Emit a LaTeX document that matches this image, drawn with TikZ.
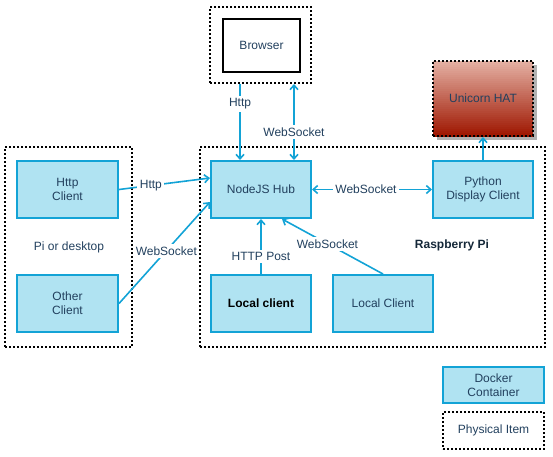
\documentclass[tikz,border=0pt]{standalone}
\usepackage{fontspec}
\setmainfont{Liberation Sans}
\usetikzlibrary{arrows.meta,calc}
\definecolor{cfill}{HTML}{B0E3F2}
\definecolor{cline}{HTML}{13A3D6}
\definecolor{ctext}{HTML}{22405E}
\definecolor{hattop}{HTML}{E4B0A3}
\definecolor{hatbot}{HTML}{9E1600}
\begin{document}
\begin{tikzpicture}[x=1pt,y=-1pt,
  every node/.style={font=\fontsize{12}{14}\selectfont, text=ctext, align=center, inner sep=0pt},
  docker/.style={draw=cline, fill=cfill, line width=2pt, minimum width=100pt, minimum height=57pt},
  phys/.style={draw=black, line width=2pt, dash pattern=on 2pt off 2pt},
  conn/.style={draw=cline, line width=1.6pt, -{Straight Barb[length=4.5pt,width=8pt]}},
  conn2/.style={draw=cline, line width=1.6pt, {Straight Barb[length=4.5pt,width=8pt]}-{Straight Barb[length=4.5pt,width=8pt]}},
  lbl/.style={fill=white, inner sep=2.5pt}
]
\useasboundingbox (0,0) rectangle (553,456);
% physical containers
\node[phys, minimum width=127pt, minimum height=200pt] (pidesk) at (68.5,247) {};
\node[phys, minimum width=345pt, minimum height=200pt] (rpi) at (372.5,247) {};
\node[phys, minimum width=101pt, minimum height=76pt] (browserouter) at (260.5,45) {};
\node[draw=black, line width=2pt, minimum width=77pt, minimum height=53pt] (browser) at (261.5,45.5) {Browser};
% unicorn hat
\fill[black!30] (437,65) rectangle (537,140);
\foreach \i in {0,...,37} {
  \pgfmathsetmacro{\p}{100-\i*100/37}
  \fill[hattop!\p!hatbot] (433,61+2*\i) rectangle (533,63.2+2*\i);
}
\node[phys, minimum width=100pt, minimum height=75pt] (hat) at (483,98.5) {Unicorn HAT};
% docker nodes
\node[docker] (hub) at (261,189.5) {NodeJS Hub};
\node[docker] (py) at (483,189.5) {Python\\Display Client};
\node[docker, minimum width=101pt] (httpc) at (67.5,189.5) {Http\\Client};
\node[docker, minimum width=101pt] (other) at (67.5,303.5) {Other\\Client};
\node[docker, text=black] (lc1) at (261,303.5) {\bfseries Local client};
\node[docker] (lc2) at (383,303.5) {Local Client};
% texts
\node (pilabel) at (69,247) {Pi or desktop};
\node[text=ctext!60!black] (rpilabel) at (452,245) {\bfseries Raspberry Pi};
% legend
\node[docker, minimum width=101pt, minimum height=36pt] (legdock) at (493.5,385) {Docker\\Container};
\node[phys, minimum width=101pt, minimum height=37pt] (legphys) at (493.5,430.5) {Physical Item};
% connectors
\coordinate (hhttp) at ([xshift=-21pt]hub.north);
\coordinate (hws) at ([xshift=33pt]hub.north);
\draw[conn] (browserouter.south -| hhttp) -- node[lbl, pos=0.26] {Http} (hhttp);
\draw[conn2] (browserouter.south -| hws) -- node[lbl, pos=0.63] {WebSocket} (hws);
\draw[conn] (httpc.east) -- node[lbl, pos=0.35] {Http} ([yshift=11.5pt]hub.west);
\draw[conn] (other.east) -- node[lbl, pos=0.52] {WebSocket} ([yshift=-12.5pt]hub.west);
\draw[conn2] (hub.east) -- node[lbl, pos=0.45] {WebSocket} (py.west);
\draw[conn] (lc1.north) -- node[lbl, pos=0.32] {HTTP Post} (hub.south);
\draw[conn] (lc2.north) -- node[lbl, pos=0.55] {WebSocket} ([xshift=21pt]hub.south);
\draw[conn] (py.north) -- (hat.south);
\end{tikzpicture}
\end{document}
